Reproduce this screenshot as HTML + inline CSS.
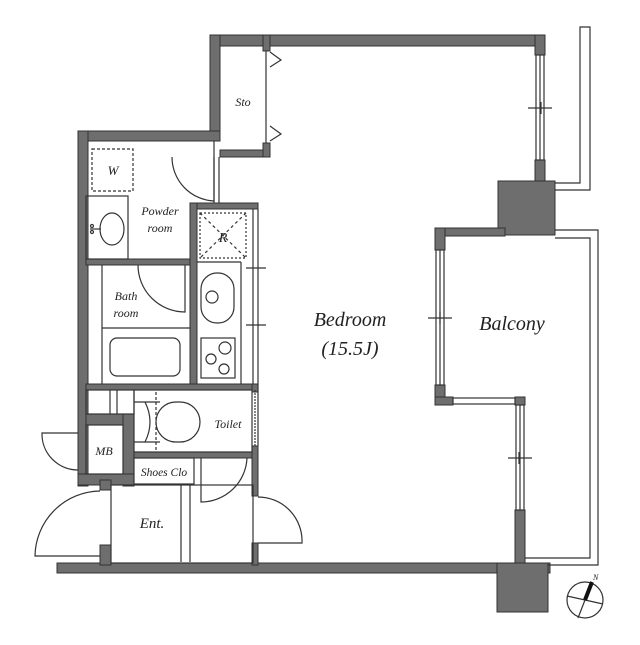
<!DOCTYPE html>
<html><head><style>
body{margin:0;background:#fff}
svg text{font-family:"Liberation Serif",serif;font-style:italic;fill:#222}
</style></head><body>
<svg width="640" height="640" viewBox="0 0 640 640" xmlns="http://www.w3.org/2000/svg">
<g fill="#6e6e6e" stroke="#333" stroke-width="1">
<!-- top wall -->
<rect x="210" y="35" width="335" height="11"/>
<rect x="210" y="35" width="10" height="105"/>
<rect x="78" y="131" width="142" height="10"/>
<rect x="78" y="131" width="10" height="355"/>
<rect x="220" y="150" width="50" height="7"/>
<rect x="263" y="35" width="7" height="16"/>
<rect x="263" y="143" width="7" height="14"/>
<!-- right upper wall -->
<rect x="535" y="35" width="10" height="20"/>
<rect x="535" y="160" width="10" height="22"/>
<rect x="498" y="181" width="57" height="54"/>
<rect x="435" y="228" width="70" height="8"/>
<rect x="435" y="228" width="10" height="22"/>
<rect x="435" y="385" width="10" height="20"/>
<rect x="435" y="397" width="18" height="8"/>
<rect x="515" y="397" width="10" height="8"/>
<rect x="515" y="510" width="10" height="55"/>
<!-- bottom wall -->
<rect x="57" y="563" width="493" height="10"/>
<rect x="497" y="563" width="51" height="49"/>
<!-- interior walls -->
<rect x="86" y="259" width="106" height="6"/>
<rect x="190" y="203" width="68" height="6"/>
<rect x="190" y="203" width="7" height="185"/>
<rect x="86" y="384" width="172" height="6"/>
<rect x="86" y="414" width="48" height="11"/>
<rect x="123" y="414" width="11" height="72"/>
<rect x="78" y="474" width="56" height="11"/>
<rect x="134" y="452" width="124" height="6"/>
<rect x="252" y="384" width="6" height="8"/>
<rect x="252" y="446" width="6" height="50"/>
<rect x="252" y="543" width="6" height="22"/>
<rect x="100" y="480" width="11" height="10"/>
<rect x="100" y="545" width="11" height="20"/>
</g>
<g fill="none" stroke="#333" stroke-width="1.2">
<!-- windows -->
<rect x="536" y="55" width="8" height="105"/><line x1="540" y1="55" x2="540" y2="160"/>
<line x1="528" y1="108" x2="552" y2="108"/><line x1="541" y1="102" x2="541" y2="114"/>
<rect x="436" y="250" width="8" height="135"/><line x1="440" y1="250" x2="440" y2="385"/>
<line x1="428" y1="318" x2="452" y2="318"/><line x1="440" y1="312" x2="440" y2="324"/>
<rect x="453" y="398" width="62" height="6"/>
<rect x="516" y="405" width="8" height="105"/><line x1="520" y1="405" x2="520" y2="510"/>
<line x1="508" y1="458" x2="532" y2="458"/><line x1="519" y1="452" x2="519" y2="464"/>
<!-- railings -->
<polyline points="555,183 580,183 580,27 590,27 590,190 555,190"/>
<polyline points="555,230 598,230 598,565 548,565"/>
<polyline points="555,238 590,238 590,558 525,558"/>
<!-- sto doors -->
<line x1="266" y1="51" x2="266" y2="143"/>
<polyline points="270,52 281,60 270,67"/><polyline points="270,126 281,134 270,141"/>
<!-- powder -->
<rect x="92" y="149" width="41" height="42" stroke-dasharray="3,2"/>
<rect x="86" y="196" width="42" height="63"/>
<ellipse cx="112" cy="229" rx="12" ry="16"/>
<line x1="90" y1="229" x2="101" y2="229"/><circle cx="92" cy="226" r="1.5"/><circle cx="92" cy="232" r="1.5"/>
<path d="M172 157 A44 44 0 0 0 214 201 L214 157"/>
<line x1="214" y1="141" x2="214" y2="203"/><line x1="219" y1="157" x2="219" y2="203"/>
<!-- fridge -->
<rect x="200" y="213" width="46" height="45" stroke-dasharray="2,2"/>
<line x1="200" y1="213" x2="246" y2="258" stroke-dasharray="3,3"/><line x1="246" y1="213" x2="200" y2="258" stroke-dasharray="3,3"/>
<!-- kitchen -->
<line x1="197" y1="262" x2="241" y2="262"/><line x1="241" y1="262" x2="241" y2="384"/>
<line x1="253" y1="209" x2="253" y2="384"/><line x1="258" y1="209" x2="258" y2="446"/>
<line x1="246" y1="268" x2="266" y2="268"/><line x1="246" y1="325" x2="266" y2="325"/>
<rect x="201" y="273" width="33" height="50" rx="16"/><circle cx="212" cy="297" r="6"/>
<rect x="201" y="338" width="34" height="40"/><circle cx="225" cy="348" r="6"/><circle cx="211" cy="359" r="5"/><circle cx="224" cy="369" r="5"/>
<!-- bath -->
<line x1="102" y1="265" x2="102" y2="384"/><line x1="102" y1="328" x2="190" y2="328"/>
<rect x="110" y="338" width="70" height="38" rx="7"/>
<path d="M138 265 A47 47 0 0 0 185 312 L185 265"/>
<!-- toilet -->
<rect x="134" y="390" width="118" height="62"/>
<rect x="86" y="390" width="48" height="24"/><line x1="110" y1="390" x2="110" y2="414"/><line x1="117" y1="390" x2="117" y2="414"/>
<line x1="156" y1="392" x2="156" y2="452" stroke-dasharray="3,2"/>
<rect x="156" y="402" width="44" height="40" rx="20"/><line x1="134" y1="402" x2="160" y2="402"/><line x1="134" y1="442" x2="160" y2="442"/>
<path d="M145 402 Q155 422 145 442"/>
<line x1="255" y1="390" x2="255" y2="446" stroke-dasharray="2,1"/>
<!-- MB -->
<rect x="86" y="425" width="37" height="49"/>
<path d="M78 433 L42 433 A36 36 0 0 0 78 470"/>
<!-- shoes -->
<rect x="134" y="458" width="60" height="26"/>
<line x1="181" y1="484" x2="181" y2="562"/><line x1="190" y1="484" x2="190" y2="562"/>
<!-- closet door -->
<path d="M201 458 L201 502 A46 46 0 0 0 247 458"/>
<!-- ent -->
<rect x="111" y="485" width="142" height="78"/>
<path d="M100 491 A66 66 0 0 0 35 556 L100 556"/>
<path d="M258 497 A44 44 0 0 1 302 543 L258 543"/>
<!-- compass -->
<circle cx="585" cy="600" r="18"/>
<line x1="567" y1="596" x2="603" y2="604"/>
<line x1="578" y1="618" x2="592" y2="582"/>
</g>
<line x1="585" y1="600" x2="592" y2="582" stroke="#111" stroke-width="4"/>
<text x="593" y="580" font-size="8">N</text>
<text x="243" y="106" font-size="12" text-anchor="middle">Sto</text>
<text x="113" y="175" font-size="13" text-anchor="middle">W</text>
<text x="160" y="215" font-size="12" text-anchor="middle">Powder</text>
<text x="160" y="232" font-size="12" text-anchor="middle">room</text>
<text x="223" y="242" font-size="14" text-anchor="middle">R</text>
<text x="126" y="300" font-size="12" text-anchor="middle">Bath</text>
<text x="126" y="317" font-size="12" text-anchor="middle">room</text>
<text x="228" y="428" font-size="12" text-anchor="middle">Toilet</text>
<text x="104" y="455" font-size="12" text-anchor="middle">MB</text>
<text x="164" y="476" font-size="11.5" text-anchor="middle">Shoes Clo</text>
<text x="152" y="528" font-size="15" text-anchor="middle">Ent.</text>
<text x="350" y="326" font-size="20" text-anchor="middle">Bedroom</text>
<text x="350" y="355" font-size="20" text-anchor="middle">(15.5J)</text>
<text x="512" y="330" font-size="20" text-anchor="middle">Balcony</text>
</svg>
</body></html>
